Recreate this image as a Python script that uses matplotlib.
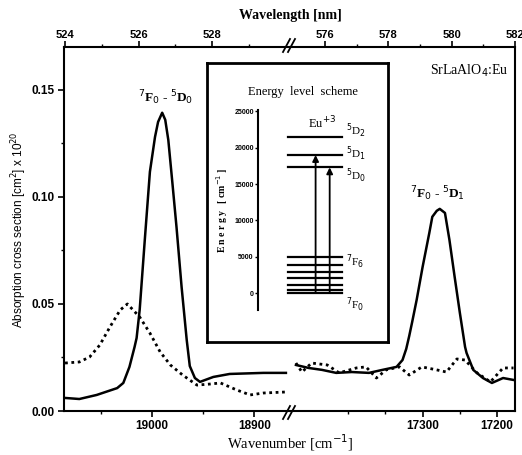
import matplotlib
matplotlib.use('Agg')
import matplotlib.pyplot as plt
from matplotlib.lines import Line2D
from matplotlib.patches import FancyArrowPatch

# ---- data ----
# left part (5D0 region), wavenumber in cm^-1, cross section in 1e-20 cm^2
wn_left_solid = [19085, 19071, 19054, 19034, 19028, 19022, 19017, 19015, 19012, 19007,
                 19002, 18997, 18994, 18990, 18987, 18984, 18980, 18976, 18971, 18966,
                 18963, 18958, 18953, 18940, 18924, 18891, 18869]
sig_left_solid = [0.0061, 0.0056, 0.0075, 0.0107, 0.0131, 0.0206, 0.0299, 0.0341, 0.0472, 0.0799,
                  0.1117, 0.1280, 0.1350, 0.1393, 0.1360, 0.1266, 0.1065, 0.0860, 0.0579, 0.0332,
                  0.0210, 0.0154, 0.0136, 0.0159, 0.0173, 0.0178, 0.0178]
wn_left_dot = [19085, 19071, 19061, 19051, 19041, 19031, 19024, 19012, 19002, 18992,
               18982, 18970, 18956, 18943, 18933, 18917, 18904, 18891, 18868]
sig_left_dot = [0.0224, 0.0229, 0.0252, 0.0308, 0.0393, 0.0472, 0.0500, 0.0439, 0.0364, 0.0276,
                0.0215, 0.0168, 0.0121, 0.0126, 0.0131, 0.0098, 0.0075, 0.0084, 0.0089]

# right part (5D1 region)
wn_right_solid = [17470, 17453, 17435, 17416, 17395, 17372, 17354, 17335, 17327, 17322,
                  17318, 17314, 17308, 17300, 17291, 17287, 17281, 17277, 17270, 17264,
                  17257, 17250, 17243, 17241, 17232, 17219, 17207, 17192, 17178]
sig_right_solid = [0.0215, 0.0201, 0.0192, 0.0178, 0.0182, 0.0178, 0.0192, 0.0206, 0.0238, 0.0290,
                   0.0350, 0.0416, 0.0519, 0.0673, 0.0832, 0.0907, 0.0935, 0.0944, 0.0925, 0.0799,
                   0.0626, 0.0458, 0.0299, 0.0271, 0.0192, 0.0154, 0.0131, 0.0154, 0.0145]
wn_right_dot = [17470, 17462, 17449, 17428, 17412, 17389, 17376, 17362, 17349, 17331,
                17318, 17301, 17281, 17268, 17254, 17243, 17227, 17209, 17192, 17178]
sig_right_dot = [0.0224, 0.0182, 0.0224, 0.0215, 0.0178, 0.0201, 0.0206, 0.0154, 0.0192, 0.0206,
                 0.0168, 0.0206, 0.0192, 0.0182, 0.0243, 0.0238, 0.0178, 0.0136, 0.0201, 0.0201]

# energy level scheme (cm^-1)
F_levels = [0, 400, 1100, 2000, 2900, 3900, 5000]
D_levels = [17300, 19000, 21500]
D_names = ['$^5$D$_0$', '$^5$D$_1$', '$^5$D$_2$']

serif = 'Liberation Serif'
sans = 'Liberation Sans'

W, H = 522, 455
fig = plt.figure(figsize=(W / 100, H / 100), dpi=100)

def fx(px):
    return px / W

def fy(py):
    return 1 - py / H

y_bot, y_top = 411, 47
axL = fig.add_axes([fx(64), fy(y_bot), (290 - 64) / W, (y_bot - y_top) / H])
axR = fig.add_axes([fx(290), fy(y_bot), (515 - 290) / W, (y_bot - y_top) / H])

for ax in (axL, axR):
    ax.set_ylim(0, 0.17)
    for s in ax.spines.values():
        s.set_linewidth(1.5)
axL.plot(wn_left_solid, sig_left_solid, color='black', lw=1.8)
axL.plot(wn_left_dot, sig_left_dot, color='black', lw=2.0, ls=(0, (1, 1.3)))
axR.plot(wn_right_solid, sig_right_solid, color='black', lw=1.8)
axR.plot(wn_right_dot, sig_right_dot, color='black', lw=2.0, ls=(0, (1, 1.3)))

axL.set_xlim(19086, 18865)
axR.set_xlim(17478, 17176)
axL.spines['right'].set_visible(False)
axR.spines['left'].set_visible(False)
axR.tick_params(axis='y', left=False, labelleft=False, right=False)

axL.set_xticks([19000, 18900])
axL.set_xticks([19050, 18950], minor=True)
axR.set_xticks([17300, 17200])
axR.set_xticks([17400, 17350, 17250], minor=True)
axL.set_yticks([0.00, 0.05, 0.10, 0.15])
axL.set_yticks([0.025, 0.075, 0.125], minor=True)
axL.set_yticklabels(['0.00', '0.05', '0.10', '0.15'])

for ax in (axL, axR):
    ax.tick_params(which='major', direction='out', length=4, width=1.2, pad=2.5)
    ax.tick_params(which='minor', direction='out', length=2.5, width=1.0)
    for lab in ax.get_xticklabels() + ax.get_yticklabels():
        lab.set_fontfamily(sans)
        lab.set_fontweight('bold')
        lab.set_fontsize(8.5)

# top wavelength axes (independent linear scales as in the original)
topL = axL.twiny()
topL.set_xlim(523.97, 530.12)
topL.set_xticks([524, 526, 528])
topL.set_xticks([525, 527, 529], minor=True)
topR = axR.twiny()
topR.set_xlim(574.9, 582.0)
topR.set_xticks([576, 578, 580, 582])
topR.set_xticks([577, 579, 581], minor=True)
for t in (topL, topR):
    t.tick_params(which='major', direction='out', length=4, width=1.2, pad=1)
    t.tick_params(which='minor', direction='out', length=2.5, width=1.0)
    for s in t.spines.values():
        s.set_visible(False)
    for lab in t.get_xticklabels():
        lab.set_fontfamily(sans)
        lab.set_fontweight('bold')
        lab.set_fontsize(8)

# axis labels
fig.text(fx(290), fy(15), 'Wavelength [nm]', ha='center', va='center',
         family=serif, fontweight='bold', fontsize=10)
fig.text(fx(290), fy(443), 'Wavenumber [cm$^{-1}$]', ha='center', va='center',
         family=serif, fontsize=10.5)
fig.text(fx(19), fy(230), 'Absorption cross section [cm$^2$] x 10$^{20}$', rotation=90,
         ha='center', va='center', family=sans, fontsize=8.5)

# axis break marks
for yb in (412, 45):
    for dx in (0, 5):
        fig.add_artist(Line2D([fx(283 + dx), fx(290 + dx)], [fy(yb + 7), fy(yb - 6)],
                              color='black', lw=1.3))

# transition labels and sample name
axL.text(18987, 0.142, '$^7$F$_0$ - $^5$D$_0$', ha='center', va='bottom',
         family=serif, fontsize=9.5, fontweight='bold')
axR.text(17280, 0.097, '$^7$F$_0$ - $^5$D$_1$', ha='center', va='bottom',
         family=serif, fontsize=9.5, fontweight='bold')
axR.text(0.97, 0.935, 'SrLaAlO$_4$:Eu', transform=axR.transAxes, ha='right', va='center',
         family=serif, fontsize=10)

# ---- inset: energy level scheme ----
box = fig.add_axes([fx(207), fy(342), (388 - 207) / W, (342 - 63) / H])
box.set_xticks([])
box.set_yticks([])
for s in box.spines.values():
    s.set_linewidth(2.0)
box.text(0.53, 0.895, 'Energy  level  scheme', transform=box.transAxes, ha='center',
         va='center', family=serif, fontsize=9)

eax = fig.add_axes([fx(258), fy(310), (386 - 258) / W, (310 - 110) / H])
eax.patch.set_alpha(0)
eax.set_ylim(-2340, 25200)
eax.set_xlim(0, 1)
for k in ('top', 'right', 'bottom'):
    eax.spines[k].set_visible(False)
eax.spines['left'].set_linewidth(1.5)
eax.set_xticks([])
eax.set_yticks([0, 5000, 10000, 15000, 20000, 25000])
eax.tick_params(axis='y', length=2, width=1, pad=1)
for lab in eax.get_yticklabels():
    lab.set_fontfamily(sans)
    lab.set_fontweight('bold')
    lab.set_fontsize(5)
eax.set_ylabel('E n e r g y   [ cm$^{-1}$ ]', family=serif, fontweight='bold',
               fontsize=7, labelpad=3)

x0, x1 = 0.235, 0.655
for e in F_levels:
    eax.plot([x0, x1], [e, e], color='black', lw=1.6)
for e in D_levels:
    eax.plot([x0, x1], [e, e], color='black', lw=1.6)
for xa, top in ((0.45, D_levels[1]), (0.56, D_levels[0])):
    eax.add_patch(FancyArrowPatch((xa, 0), (xa, top), arrowstyle='-|>', mutation_scale=9,
                                  color='black', lw=1.3, shrinkA=0, shrinkB=0))
eax.text(0.5, 22300, 'Eu$^{+3}$', ha='center', va='bottom', family=serif, fontsize=9)
for e, name, dy in zip(D_levels, D_names, (-1100, 200, 900)):
    eax.text(0.69, e + dy, name, ha='left', va='center', family=serif, fontsize=8)
eax.text(0.69, 4300, '$^7$F$_6$', ha='left', va='center', family=serif, fontsize=8)
eax.text(0.69, -1600, '$^7$F$_0$', ha='left', va='center', family=serif, fontsize=8)

fig.savefig('out.png', dpi=100)
